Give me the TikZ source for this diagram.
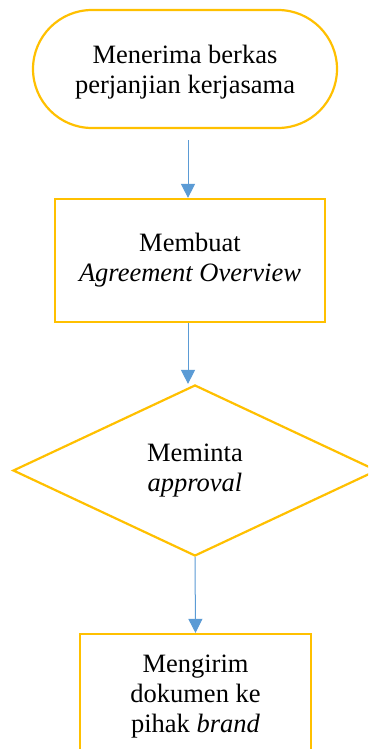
\documentclass[tikz,border=0pt]{standalone}
\usepackage{fontspec}
\setmainfont{Liberation Serif}
\usetikzlibrary{arrows.meta,shapes.geometric}
\definecolor{boxline}{HTML}{FFC000}
\definecolor{flowline}{HTML}{5B9BD5}
\begin{document}
\begin{tikzpicture}[x=1pt,y=-1pt,
  every node/.style={font=\fontsize{26.5}{30}\selectfont, align=center, inner sep=0pt},
  outline/.style={draw=boxline, line width=2.2pt},
  terminal/.style={outline, rounded corners=59pt, minimum width=304pt, minimum height=118pt},
  process/.style={outline, rectangle},
  decision/.style={outline, diamond, minimum width=364pt, minimum height=171pt},
  flow/.style={draw=flowline, line width=1pt, -{Triangle[width=14pt,length=14pt]}}]
  \clip (0,0) rectangle (368,749);
  \fill[white] (0,0) rectangle (368,749);
  % start
  \node[terminal] (start) at (185,69) {\\[-6pt]Menerima berkas\\perjanjian kerjasama};
  % step 1
  \node[process, minimum width=270pt, minimum height=123pt] (overview) at (190,260.5)
    {Membuat\\\textit{Agreement Overview}};
  % decision
  \node[decision] (approval) at (195,470.5) {Meminta\\\textit{approval}};
  % last step (runs past the lower edge)
  \node[process, minimum width=231pt, minimum height=126pt] (send) at (195.5,697)
    {Mengirim\\dokumen ke\\pihak \textit{brand}};
  % connectors
  \draw[flow, shorten <=11pt] (start.south -| overview.north) ++(-2,0) -- (overview.north -| 188,0);
  \draw[flow] (overview.south -| 188,0) -- (approval.north -| 188,0);
  \draw[flow] (approval.south) -- (send.north);
\end{tikzpicture}
\end{document}
